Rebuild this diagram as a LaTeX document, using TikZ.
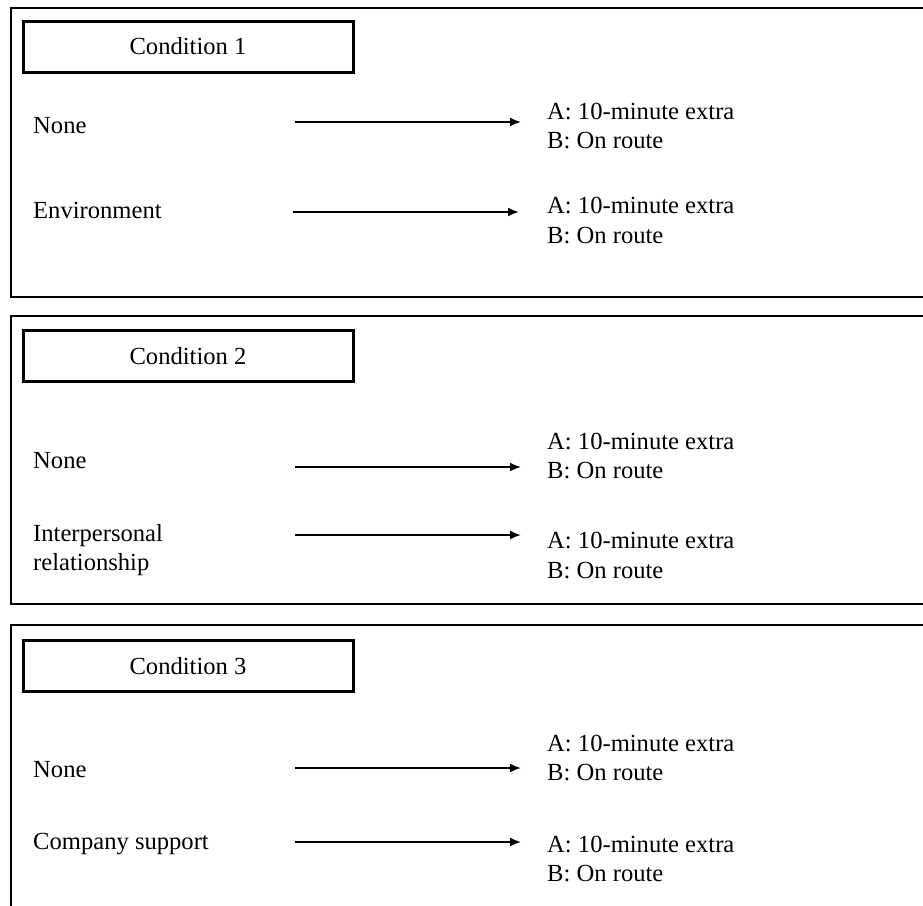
\documentclass[tikz,border=0pt]{standalone}
\usepackage{fontspec}
\setmainfont{Liberation Serif}
\usetikzlibrary{arrows.meta}
\begin{document}
\begin{tikzpicture}[x=1pt,y=-1pt,
  panel/.style={draw=black,line width=2.8pt},
  condbox/.style={draw=black,line width=3pt,minimum width=330pt,minimum height=51pt,inner sep=0pt,font=\fontsize{24.6}{28}\selectfont},
  lbl/.style={anchor=base west,inner sep=0pt,font=\fontsize{24.6}{28}\selectfont},
  link/.style={line width=1.8pt,-{Latex[length=11pt,width=9pt]}}]
\useasboundingbox (0,0) rectangle (923,905);
\clip (0,0) rectangle (923,905);
\fill[white] (0,0) rectangle (923,905);
% panels
\draw[panel] (11,8) rectangle (935,297);
\draw[panel] (11,316) rectangle (935,604);
\draw[panel] (11,625) rectangle (935,930);
% condition boxes
\node[condbox] (c1) at (188,46.5) {Condition 1};
\node[condbox] (c2) at (188,356) {Condition 2};
\node[condbox] (c3) at (188,666) {Condition 3};
% panel 1
\node[lbl] (n1) at (33,133) {None};
\node[lbl] (env) at (33,218) {Environment};
\coordinate (s11) at (295,122); \coordinate (e11) at (521,122);
\coordinate (s12) at (293,212); \coordinate (e12) at (519,212);
\draw[link] (s11) -- (e11);
\draw[link] (s12) -- (e12);
\node[lbl] (a11) at (547,119) {A: 10-minute extra};
\node[lbl] (b11) at (547,148) {B: On route};
\node[lbl] (a12) at (547,213) {A: 10-minute extra};
\node[lbl] (b12) at (547,243) {B: On route};
% panel 2
\node[lbl] (n2) at (33,468) {None};
\node[lbl] (ip) at (33,541) {Interpersonal};
\node[lbl] (rel) at (33,570) {relationship};
\coordinate (s21) at (295,467); \coordinate (e21) at (521,467);
\coordinate (s22) at (295,535); \coordinate (e22) at (521,535);
\draw[link] (s21) -- (e21);
\draw[link] (s22) -- (e22);
\node[lbl] (a21) at (547,449) {A: 10-minute extra};
\node[lbl] (b21) at (547,478) {B: On route};
\node[lbl] (a22) at (547,548) {A: 10-minute extra};
\node[lbl] (b22) at (547,578) {B: On route};
% panel 3
\node[lbl] (n3) at (33,777) {None};
\node[lbl] (cs) at (33,849) {Company support};
\coordinate (s31) at (295,768); \coordinate (e31) at (521,768);
\coordinate (s32) at (295,842); \coordinate (e32) at (521,842);
\draw[link] (s31) -- (e31);
\draw[link] (s32) -- (e32);
\node[lbl] (a31) at (547,751) {A: 10-minute extra};
\node[lbl] (b31) at (547,780) {B: On route};
\node[lbl] (a32) at (547,852) {A: 10-minute extra};
\node[lbl] (b32) at (547,881) {B: On route};
\end{tikzpicture}
\end{document}
